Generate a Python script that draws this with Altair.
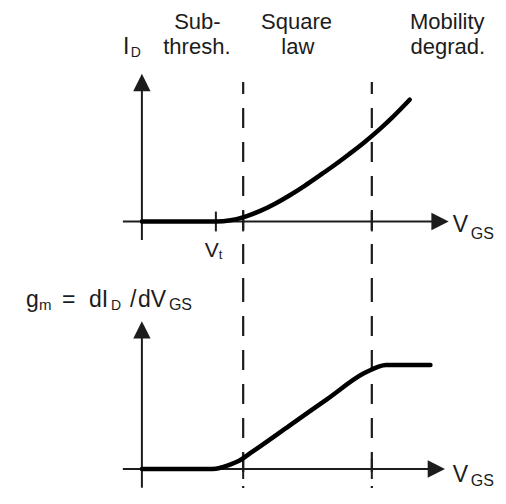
import altair as alt
import pandas as pd

FONT = "Liberation Sans"
INK = "#1c1c1c"

# ---- data (x = V_GS in units of V_t; y = I_D or g_m, arbitrary units) ----
vgs_id = [0.0, 0.5, 1.0, 1.2, 1.4, 1.6, 1.8, 2.0, 2.2, 2.4, 2.6, 2.8, 3.0, 3.2, 3.4, 3.62]
id_vals = [0.0, 0.0, 0.0, 0.01, 0.04, 0.086, 0.144, 0.212, 0.288, 0.37, 0.454, 0.543, 0.636, 0.737, 0.848, 0.982]

vgs_gm = [0.0, 0.9, 1.0, 1.1, 1.2, 1.3, 1.5, 2.0, 2.5, 3.0, 3.1, 3.2, 3.3, 3.9]
gm_vals = [0.0, 0.0, 0.003, 0.02, 0.045, 0.075, 0.17, 0.42, 0.67, 0.92, 0.955, 0.985, 1.0, 1.0]

v_t = 1.0
region_bounds = [1.369, 3.108]

heading_text = ["Sub-", "thresh.", "Square", "law", "Mobility", "degrad."]
heading_x = [0.75, 0.743, 2.09, 2.108, 4.128, 4.135]
heading_y = [1.552, 1.347, 1.552, 1.347, 1.552, 1.347]

# label pieces (text, x, y, font size) for the top panel
top_lbl_text = ["I", "D", "V", "GS", "V", "t"]
top_lbl_x = [-0.257, -0.15, 4.203, 4.445, 0.851, 1.04]
top_lbl_y = [1.347, 1.327, -0.085, -0.141, -0.286, -0.302]
top_lbl_fs = [23, 14, 23, 16, 21, 13]

# label pieces for the bottom panel
bot_lbl_text = ["g", "m", "=", "dI", "D", "/", "dV", "GS", "V", "GS"]
bot_lbl_x = [-1.568, -1.392, -1.081, -0.716, -0.419, -0.162, -0.054, 0.365, 4.203, 4.445]
bot_lbl_y = [1.558, 1.529, 1.558, 1.558, 1.525, 1.558, 1.558, 1.529, -0.125, -0.163]
bot_lbl_fs = [23, 15, 23, 23, 14, 23, 23, 16, 23, 16]

# ---- scales ----
W = 489
H_TOP = 282
H_BOT = 198
xs = alt.Scale(domain=[-1.81, 4.80], nice=False, zero=False)
ys_top = alt.Scale(domain=[-0.5524, 1.7218], nice=False, zero=False)
ys_bot = alt.Scale(domain=[-0.1827, 1.7212], nice=False, zero=False)

ARROW_R = "M-1,-1L1,0L-1,1Z"
ARROW_U = "M-1,1L0,-1L1,1Z"


def panel(curve_x, curve_y, ys, ymin, axis_top, arrow_up_y, arrow_right_x,
          axis_end, tick_half, lbl, dash_top, tick_xs, extra_layers):
    X = lambda f: alt.X(f, type="quantitative", scale=xs, axis=None)
    Y = lambda f: alt.Y(f, type="quantitative", scale=ys, axis=None)

    curve = alt.Chart(pd.DataFrame({"v": curve_x, "y": curve_y})).mark_line(
        color="black", strokeWidth=4.5, interpolate="monotone", strokeCap="round"
    ).encode(x=X("v"), y=Y("y"))

    haxis = alt.Chart(pd.DataFrame({"x": [-0.257], "x2": [axis_end], "y": [0.0]})).mark_rule(
        color=INK, strokeWidth=2
    ).encode(x=X("x"), x2="x2:Q", y=Y("y"))

    vaxis = alt.Chart(pd.DataFrame({"x": [0.0], "y": [ymin], "y2": [axis_top]})).mark_rule(
        color=INK, strokeWidth=2
    ).encode(x=X("x"), y=Y("y"), y2="y2:Q")

    ticks = alt.Chart(pd.DataFrame({
        "x": tick_xs, "y": [-tick_half] * len(tick_xs), "y2": [tick_half] * len(tick_xs)
    })).mark_rule(color=INK, strokeWidth=2).encode(x=X("x"), y=Y("y"), y2="y2:Q")

    dashes = alt.Chart(pd.DataFrame({
        "x": region_bounds, "y": [dash_top] * 2, "y2": [ys.domain[0]] * 2
    })).mark_rule(color=INK, strokeWidth=2.2, strokeDash=[20, 14], strokeDashOffset=8).encode(
        x=X("x"), y=Y("y"), y2="y2:Q")

    arr_r = alt.Chart(pd.DataFrame({"x": [arrow_right_x], "y": [0.0]})).mark_point(
        shape=ARROW_R, filled=True, size=300, color=INK, opacity=1
    ).encode(x=X("x"), y=Y("y"))
    arr_u = alt.Chart(pd.DataFrame({"x": [0.0], "y": [arrow_up_y]})).mark_point(
        shape=ARROW_U, filled=True, size=300, color=INK, opacity=1
    ).encode(x=X("x"), y=Y("y"))

    t, lx, ly, fs = lbl
    labels = alt.Chart(pd.DataFrame({"t": t, "x": lx, "y": ly, "fs": fs})).mark_text(
        align="left", baseline="alphabetic", font=FONT, color=INK
    ).encode(x=X("x"), y=Y("y"), text="t:N", size=alt.Size("fs:Q", scale=None, legend=None))

    layers = [dashes, haxis, vaxis, ticks, curve, arr_r, arr_u, labels] + extra_layers
    return alt.layer(*layers)


headings = alt.Chart(pd.DataFrame({"t": heading_text, "x": heading_x, "y": heading_y})).mark_text(
    align="center", baseline="alphabetic", font=FONT, color=INK, fontSize=22
).encode(
    x=alt.X("x:Q", scale=xs, axis=None),
    y=alt.Y("y:Q", scale=ys_top, axis=None),
    text="t:N",
)

top = panel(vgs_id, id_vals, ys_top, -0.149, 1.10, 1.121, 4.03, 4.0, 0.08,
            (top_lbl_text, top_lbl_x, top_lbl_y, top_lbl_fs), 1.125,
            [v_t] + region_bounds, [headings]).properties(width=W, height=H_TOP)

bottom = panel(vgs_gm, gm_vals, ys_bot, -0.18, 1.30, 1.337, 3.98, 3.96, 0.096,
               (bot_lbl_text, bot_lbl_x, bot_lbl_y, bot_lbl_fs), 1.7212,
               region_bounds, []).properties(width=W, height=H_BOT)

chart = alt.vconcat(top, bottom, spacing=0, bounds="flush").properties(
    padding=0, background="white"
).configure_view(stroke=None).configure_concat(spacing=0)

chart.save("out.html", embed_options={"renderer": "svg", "actions": False})
